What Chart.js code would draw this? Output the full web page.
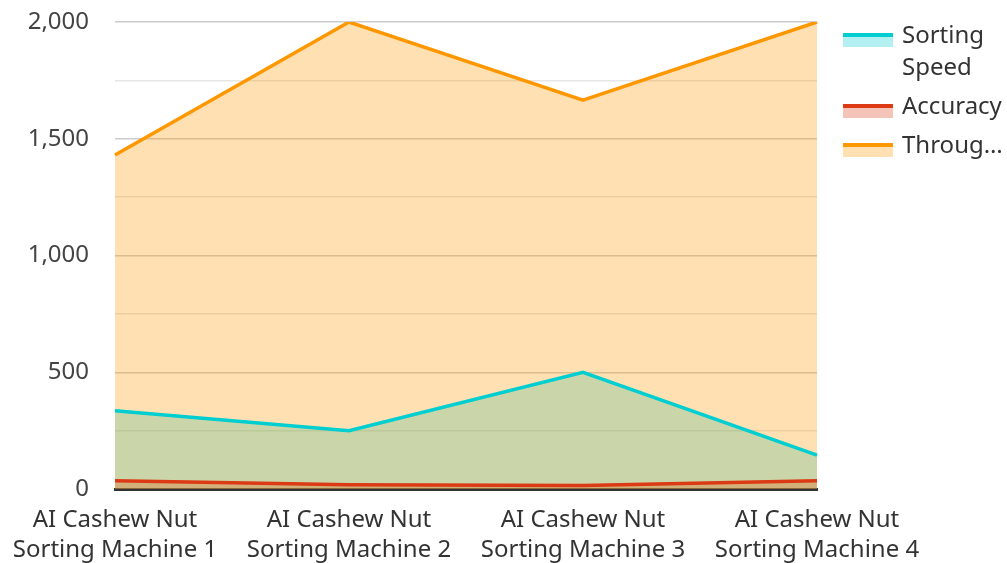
<!DOCTYPE html>
<html>
<head>
<meta charset="utf-8">
<script src="https://cdn.jsdelivr.net/npm/chart.js@4.4.0/dist/chart.umd.min.js"></script>
<style>
    body { margin: 0; background: #fff; font-family: "Noto Sans", sans-serif; }
    #wrap { position: relative; width: 1007px; height: 563px; }
    #legend { position: absolute; left: 843px; top: 18px; }
    .item { display: flex; align-items: flex-start; margin-bottom: 7px; }
    .box { width: 50px; height: 10px; margin-top: 15px; margin-right: 9px; border-top: 4px solid; }
    .text { width: 106px; font-size: 24px; line-height: 32px; color: #333; overflow: hidden; text-overflow: ellipsis; }
</style>
</head>
<body>
<div id="wrap">
    <canvas id="chart" width="1007" height="563"></canvas>
    <div id="legend"></div>
</div>
<script>
const machines = [
    ['AI Cashew Nut', 'Sorting Machine 1'],
    ['AI Cashew Nut', 'Sorting Machine 2'],
    ['AI Cashew Nut', 'Sorting Machine 3'],
    ['AI Cashew Nut', 'Sorting Machine 4']
];
const sortingSpeed = [335, 250, 500, 145];
const accuracy = [35, 18, 15, 35];
const throughput = [1430, 2000, 1665, 2000];

const seriesNames = ['Sorting Speed', 'Accuracy', 'Throughput'];
const lineColors = ['#00CED1', '#DC3A14', '#FF9800'];
const fillColors = ['rgba(0, 206, 209, 0.3)', 'rgba(220, 58, 20, 0.3)', 'rgba(255, 152, 0, 0.3)'];
const seriesData = [sortingSpeed, accuracy, throughput];
// throughput fill sits on top of the others
const drawOrder = [2, 1, 0];

const ctx = document.getElementById('chart').getContext('2d');
const chart = new Chart(ctx, {
    type: 'line',
    data: {
        labels: machines,
        datasets: seriesNames.map((name, i) => ({
            label: name,
            data: seriesData[i],
            borderColor: lineColors[i],
            backgroundColor: fillColors[i],
            borderWidth: 3.5,
            pointRadius: 0,
            tension: 0,
            fill: 'origin',
            order: drawOrder[i]
        }))
    },
    options: {
        responsive: false,
        animation: false,
        devicePixelRatio: 1,
        layout: { padding: { top: 22, right: 190, left: 0, bottom: 0 } },
        plugins: {
            legend: { display: false },
            tooltip: { enabled: false },
            filler: { drawTime: 'beforeDatasetsDraw' }
        },
        scales: {
            x: {
                offset: false,
                grid: { display: false, drawTicks: false },
                border: { display: true, color: '#333', width: 3 },
                ticks: {
                    color: '#333',
                    font: { family: 'Noto Sans', size: 24, lineHeight: 1.25 },
                    padding: 16,
                    maxRotation: 0,
                    autoSkip: false
                },
                afterFit: scale => {
                    scale.height = 74;
                    scale.paddingLeft = 0;
                    scale.paddingRight = 0;
                }
            },
            y: {
                min: 0,
                max: 2000,
                border: { display: false },
                grid: {
                    drawTicks: false,
                    lineWidth: 1.5,
                    color: c => (c.tick && c.tick.value % 500 === 0) ? '#cccccc' : '#e6e6e6'
                },
                ticks: {
                    stepSize: 250,
                    color: '#444',
                    padding: 26,
                    font: { family: 'Noto Sans', size: 24 },
                    callback: v => v % 500 === 0 ? v.toLocaleString('en-US') : ''
                },
                afterFit: scale => {
                    scale.width = 115;
                    scale.paddingTop = 0;
                    scale.paddingBottom = 0;
                }
            }
        }
    }
});

// legend in html so the long names can wrap / be cut off
const legend = document.getElementById('legend');
seriesNames.forEach((name, i) => {
    const item = document.createElement('div');
    item.className = 'item';
    const box = document.createElement('div');
    box.className = 'box';
    box.style.borderTopColor = lineColors[i];
    box.style.background = fillColors[i];
    const text = document.createElement('div');
    text.className = 'text';
    text.textContent = name;
    item.appendChild(box);
    item.appendChild(text);
    legend.appendChild(item);
});
</script>
</body>
</html>
